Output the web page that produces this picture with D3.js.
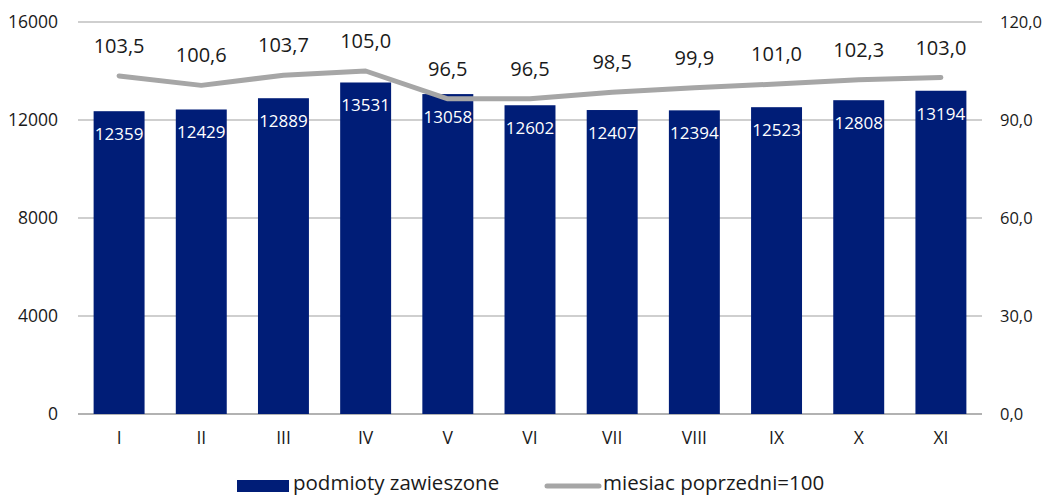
<!DOCTYPE html>
<html>
<head>
<meta charset="utf-8">
<script src="https://cdn.jsdelivr.net/npm/d3@7"></script>
<style>
  body { margin: 0; background: #fff; }
  svg text { font-family: "Open Sans", "Noto Sans", sans-serif; fill: #1a1a1a; }
</style>
</head>
<body>
<div class="chart-container"></div>
<script>
//! DATA
const months = ['I', 'II', 'III', 'IV', 'V', 'VI', 'VII', 'VIII', 'IX', 'X', 'XI']
const suspended = [12359, 12429, 12889, 13531, 13058, 12602, 12407, 12394, 12523, 12808, 13194]
const prevMonth = [103.5, 100.6, 103.7, 105.0, 96.5, 96.5, 98.5, 99.9, 101.0, 102.3, 103.0]
const leftTicks = [0, 4000, 8000, 12000, 16000]
const rightTicks = [0, 30, 60, 90, 120]
const barName = 'podmioty zawieszone'
const lineName = 'miesiac poprzedni=100'

//! CONSTS
const width = 1045
const height = 495
const plotL = 78, plotR = 982, plotT = 22, plotB = 414

const svg = d3.select('.chart-container')
  .append('svg')
  .attr('width', width)
  .attr('height', height)

//! SCALES
const x = d3.scaleBand().domain(months).range([plotL, plotR]).paddingInner(0.38).paddingOuter(0.19)
const yL = d3.scaleLinear().domain([0, 16000]).range([plotB, plotT])
const yR = d3.scaleLinear().domain([0, 120]).range([plotB, plotT])
const fmt = d3.formatLocale({ decimal: ',', thousands: '', grouping: [3], currency: ['', ''] }).format('.1f')

//! GRID
svg.append('g')
  .selectAll('line')
  .data(leftTicks)
  .enter()
  .append('line')
  .attr('x1', plotL).attr('x2', plotR)
  .attr('y1', d => yL(d)).attr('y2', d => yL(d))
  .attr('stroke', d => d === 0 ? '#999' : '#bfbfbf')
  .attr('stroke-width', 1.5)

//! AXES (labels only)
const axisL = svg.append('g')
  .attr('transform', `translate(${plotL - 17},0)`)
  .call(d3.axisLeft(yL).tickValues(leftTicks).tickSize(0).tickFormat(d3.format('')))
const axisR = svg.append('g')
  .attr('transform', `translate(${plotR + 15},0)`)
  .call(d3.axisRight(yR).tickValues(rightTicks).tickSize(0).tickFormat(fmt))
const axisX = svg.append('g')
  .attr('transform', `translate(0,${plotB + 13})`)
  .call(d3.axisBottom(x).tickSize(0))
;[axisL, axisR, axisX].forEach(g => {
  g.select('.domain').remove()
  g.selectAll('text').attr('font-size', 17.5).attr('fill', '#1a1a1a')
    .style('font-family', '"Open Sans", sans-serif')
})
axisR.selectAll('text').attr('font-size', 16.5)
axisL.selectAll('text').attr('dx', 0)
axisX.selectAll('text').attr('dy', '0.8em')

//! BARS
svg.append('g')
  .selectAll('rect')
  .data(suspended)
  .enter()
  .append('rect')
  .attr('x', (d, i) => x(months[i]))
  .attr('y', d => yL(d))
  .attr('width', x.bandwidth())
  .attr('height', d => yL(0) - yL(d))
  .attr('fill', '#001d77')

svg.append('g')
  .selectAll('text')
  .data(suspended)
  .enter()
  .append('text')
  .attr('x', (d, i) => x(months[i]) + x.bandwidth() / 2)
  .attr('y', d => yL(d) + 29)
  .attr('text-anchor', 'middle')
  .attr('font-size', 17)
  .style('fill', '#fff')
  .text(d => d)

//! LINE
const line = d3.line()
  .x((d, i) => x(months[i]) + x.bandwidth() / 2)
  .y(d => yR(d))

svg.append('path')
  .datum(prevMonth)
  .attr('d', line)
  .attr('fill', 'none')
  .attr('stroke', '#a6a6a6')
  .attr('stroke-width', 5)
  .attr('stroke-linecap', 'round')
  .attr('stroke-linejoin', 'round')

svg.append('g')
  .selectAll('text')
  .data(prevMonth)
  .enter()
  .append('text')
  .attr('x', (d, i) => x(months[i]) + x.bandwidth() / 2)
  .attr('y', d => yR(d) - 23)
  .attr('text-anchor', 'middle')
  .attr('font-size', 20)
  .text(d => fmt(d))

//! LEGEND
const lg = svg.append('g')
lg.append('rect').attr('x', 237).attr('y', 480).attr('width', 52).attr('height', 12).attr('fill', '#001d77')
lg.append('text').attr('x', 293).attr('y', 490).attr('font-size', 20.5).text(barName)
lg.append('line').attr('x1', 547).attr('x2', 599).attr('y1', 486).attr('y2', 486)
  .attr('stroke', '#a6a6a6').attr('stroke-width', 5).attr('stroke-linecap', 'round')
lg.append('text').attr('x', 603).attr('y', 490).attr('font-size', 20.5).text(lineName)
</script>
</body>
</html>
